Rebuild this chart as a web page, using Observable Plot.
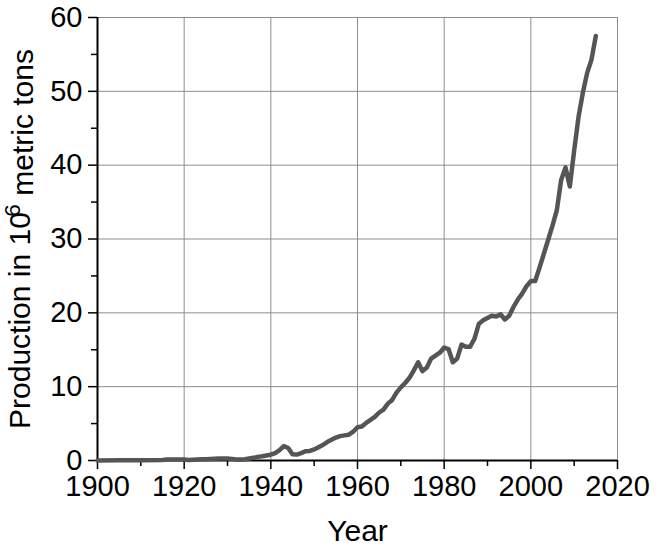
<!DOCTYPE html>
<html>
<head>
<meta charset="utf-8">
<script src="https://cdn.jsdelivr.net/npm/d3@7"></script>
<script src="https://cdn.jsdelivr.net/npm/@observablehq/plot@0.6"></script>
<style>
  html, body { margin: 0; padding: 0; background: white; }
</style>
</head>
<body>
<div id="chart"></div>
<script>
const years = [
  1900, 1905, 1910, 1915, 1916, 1917, 1918, 1919, 1920, 1921, 1922, 1923, 1924, 1925, 1926, 1927, 1928, 1929,
  1930, 1931, 1932, 1933, 1934, 1935, 1936, 1937, 1938, 1939, 1940, 1941, 1942, 1943, 1944, 1945, 1946, 1947,
  1948, 1949, 1950, 1951, 1952, 1953, 1954, 1955, 1956, 1957, 1958, 1959, 1960, 1961, 1962, 1963, 1964, 1965,
  1966, 1967, 1968, 1969, 1970, 1971, 1972, 1973, 1974, 1975, 1976, 1977, 1978, 1979, 1980, 1981, 1982, 1983,
  1984, 1985, 1986, 1987, 1988, 1989, 1990, 1991, 1992, 1993, 1994, 1995, 1996, 1997, 1998, 1999, 2000, 2001,
  2002, 2003, 2004, 2005, 2006, 2007, 2008, 2009, 2010, 2011, 2012, 2013, 2014, 2015
];
const production = [
  0.01, 0.02, 0.05, 0.08, 0.12, 0.15, 0.14, 0.13, 0.13, 0.07, 0.10, 0.13, 0.17, 0.18, 0.20, 0.23, 0.26, 0.28,
  0.27, 0.22, 0.15, 0.14, 0.17, 0.26, 0.36, 0.49, 0.57, 0.68, 0.79, 1.0, 1.4, 1.95, 1.7, 0.85, 0.8, 1.0,
  1.25, 1.3, 1.5, 1.8, 2.1, 2.5, 2.8, 3.1, 3.3, 3.4, 3.5, 3.9, 4.5, 4.6, 5.1, 5.5, 5.9, 6.5,
  6.9, 7.7, 8.2, 9.2, 9.9, 10.5, 11.2, 12.2, 13.3, 12.1, 12.6, 13.8, 14.2, 14.6, 15.3, 15.1, 13.3, 13.8,
  15.7, 15.4, 15.4, 16.5, 18.5, 19.0, 19.3, 19.6, 19.5, 19.8, 19.1, 19.6, 20.8, 21.8, 22.6, 23.6, 24.3, 24.3,
  26.1, 28.0, 29.9, 31.8, 33.9, 38.0, 39.7, 37.1, 42.0, 46.5, 49.8, 52.5, 54.3, 57.5
];
const xDomain = [1900, 2020];
const yDomain = [0, 60];
const xMajorTicks = [1900, 1920, 1940, 1960, 1980, 2000, 2020];
const xMinorTicks = [1910, 1930, 1950, 1970, 1990, 2010];
const yMajorTicks = [0, 10, 20, 30, 40, 50, 60];
const yMinorTicks = [5, 15, 25, 35, 45, 55];
const xLabel = "Year";
const yLabel = "Production in 10⁶ metric tons";

const data = years.map((y, i) => ({year: y, value: production[i]}));

const font = "'Liberation Sans', Arial, Helvetica, sans-serif";

const plot = Plot.plot({
  width: 660,
  height: 554,
  marginLeft: 97,
  marginRight: 43,
  marginTop: 17,
  marginBottom: 94,
  style: {fontFamily: font, background: "white", color: "black", overflow: "visible"},
  x: {domain: xDomain},
  y: {domain: yDomain},
  marks: [
    Plot.gridX(xMajorTicks, {stroke: "#8c8c8c", strokeOpacity: 1, strokeWidth: 1}),
    Plot.gridY(yMajorTicks, {stroke: "#8c8c8c", strokeOpacity: 1, strokeWidth: 1}),
    Plot.axisX(xMajorTicks, {
      tickSize: 9, tickPadding: 6, fontSize: 29, tickFormat: "d", stroke: "black", strokeWidth: 1.5,
      fill: "black", label: xLabel, labelAnchor: "center", labelArrow: "none", labelOffset: 80
    }),
    Plot.axisX(xMinorTicks, {tickSize: 6, tickFormat: () => "", stroke: "black", strokeWidth: 1.5, label: null}),
    Plot.axisY(yMajorTicks, {
      tickSize: 9, tickPadding: 6, fontSize: 29, stroke: "black", strokeWidth: 1.5,
      fill: "black", label: yLabel, labelAnchor: "center", labelArrow: "none", labelOffset: 89
    }),
    Plot.axisY(yMinorTicks, {tickSize: 6, tickFormat: () => "", stroke: "black", strokeWidth: 1.5, label: null}),
    Plot.ruleX([xDomain[0]], {stroke: "black", strokeWidth: 2}),
    Plot.ruleY([yDomain[0]], {stroke: "black", strokeWidth: 2}),
    Plot.line(data, {x: "year", y: "value", stroke: "#555555", strokeWidth: 4.5, strokeLinejoin: "round", strokeLinecap: "round"})
  ]
});

// style axis labels (font size) and build the superscript
d3.select(plot).selectAll("text").each(function () {
  const t = d3.select(this);
  const s = this.textContent.trim();
  if (s === xLabel || s === yLabel) {
    t.attr("font-size", 30).attr("fill", "black");
  }
  if (s === yLabel) {
    t.text(null);
    t.append("tspan").text("Production in 10");
    t.append("tspan").attr("dy", "-0.45em").attr("font-size", "0.75em").attr("dx", "-0.2em").text("6");
    t.append("tspan").attr("dy", "0.45em").text(" metric tons");
  }
});

document.getElementById("chart").appendChild(plot);
</script>
</body>
</html>
